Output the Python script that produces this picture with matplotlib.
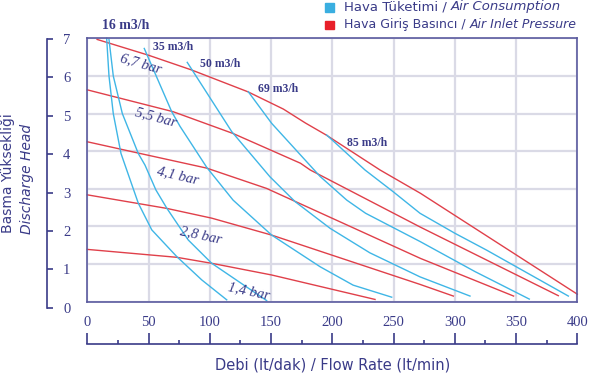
import matplotlib
matplotlib.use('Agg')
import matplotlib.pyplot as plt
from matplotlib.patches import Rectangle

# inlet pressure curves (red)
p67_x = [8, 50, 85, 131, 160, 178, 195, 239, 272, 400]
p67_y = [6.97, 6.55, 6.16, 5.58, 5.12, 4.75, 4.43, 3.5, 2.88, 0.2]
p55_x = [0, 70, 119, 174, 182, 272, 384.5]
p55_y = [5.63, 5.05, 4.47, 3.68, 3.5, 1.98, 0.16]
p41_x = [0, 43, 97.5, 146.4, 272, 348]
p41_y = [4.25, 3.94, 3.55, 3.01, 1.15, 0.15]
p28_x = [0, 64.8, 101.6, 150.5, 271.6, 298.8]
p28_y = [2.84, 2.48, 2.22, 1.77, 0.46, 0.15]
p14_x = [0, 73, 101.6, 150.5, 234.9]
p14_y = [1.39, 1.18, 1.02, 0.71, 0.06]

# air consumption curves (blue)
a0_x = [15.8, 17.7, 21.2, 27.5, 30.8, 41.6, 52.6, 73, 93.4, 113.8]
a0_y = [7.0, 6.0, 5.0, 3.94, 3.63, 2.62, 1.91, 1.2, 0.58, 0.05]
a16_x = [17.7, 21.2, 28.6, 41.6, 47.1, 56, 64.8, 82.4, 101.6, 146.4]
a16_y = [6.97, 6.0, 5.0, 3.94, 3.63, 2.97, 2.49, 1.64, 1.02, 0.03]
a35_x = [46.5, 68.9, 75.7, 97.5, 119, 150.5, 190, 217, 248.5]
a35_y = [6.73, 5.05, 4.66, 3.57, 2.7, 1.77, 0.93, 0.44, 0.12]
a50_x = [81.6, 117.9, 149.1, 169.6, 198.2, 230.6, 271.6, 312.4]
a50_y = [6.36, 4.52, 3.32, 2.66, 1.95, 1.3, 0.66, 0.15]
a69_x = [131.4, 150.5, 190, 211.8, 227.2, 271.6, 316.5, 360.8]
a69_y = [5.58, 4.74, 3.33, 2.7, 2.35, 1.6, 0.8, 0.07]
a85_x = [195.4, 226.7, 249.8, 271.6, 300, 326, 392.7]
a85_y = [4.43, 3.5, 2.92, 2.35, 1.82, 1.37, 0.15]

pressure_labels = ['6,7 bar', '5,5 bar', '4,1 bar', '2,8 bar', '1,4 bar']
air_labels = ['16 m3/h', '35 m3/h', '50 m3/h', '69 m3/h', '85 m3/h']

x_ticks = [0, 50, 100, 150, 200, 250, 300, 350, 400]
y_ticks = [0, 1, 2, 3, 4, 5, 6, 7]

navy = '#3a3b88'
red = '#e0404a'
blue = '#3fb6e6'

W, H = 590, 374
fig = plt.figure(figsize=(W / 100, H / 100), dpi=100)

def box(l, t, r, b):
    return [l / W, 1 - b / H, (r - l) / W, (b - t) / H]

ax = fig.add_axes(box(87.3, 38.3, 577.3, 301.7))
ax.set_xlim(0, 400)
ax.set_ylim(0, 7)
ax.set_xticks(x_ticks)
ax.set_yticks(y_ticks)
ax.tick_params(length=0, labelleft=False, labelbottom=False)
ax.grid(color='#dadae6', lw=1.6)
ax.set_axisbelow(True)
for s in ax.spines.values():
    s.set_color('#5a5a9e')
    s.set_linewidth(1.2)

for xs, ys in [(p67_x, p67_y), (p55_x, p55_y), (p41_x, p41_y), (p28_x, p28_y), (p14_x, p14_y)]:
    ax.plot(xs, ys, color=red, lw=1.0, clip_on=False)
for xs, ys in [(a0_x, a0_y), (a16_x, a16_y), (a35_x, a35_y), (a50_x, a50_y), (a69_x, a69_y), (a85_x, a85_y)]:
    ax.plot(xs, ys, color=blue, lw=1.0, clip_on=False)

serif = 'Liberation Serif'
bar_pos = [(43.8, 6.32, -16), (56.1, 4.91, -15), (74.0, 3.34, -13), (92.8, 1.77, -12), (132, 0.28, -12)]
for lab, (x, y, r) in zip(pressure_labels, bar_pos):
    ax.text(x, y, lab, family=serif, style='italic', fontsize=10.5, color=navy,
            rotation=r, ha='center', va='center', rotation_mode='anchor')

air_pos = [(31.6, 7.33, 10), (69.7, 6.78, 8.5), (108.3, 6.33, 8.5), (155.7, 5.66, 8.5), (228.7, 4.23, 8.5)]
for lab, (x, y, fs) in zip(air_labels, air_pos):
    ax.text(x, y, lab, family=serif, weight='bold', fontsize=fs, color=navy,
            ha='center', va='center', clip_on=False)

# separate left axis with labels on its right side
ax_y = fig.add_axes(box(47, 39, 61, 307.7))
ax_y.set_ylim(0, 7)
ax_y.set_yticks(y_ticks)
ax_y.set_xticks([])
ax_y.patch.set_visible(False)
for k in ['top', 'right', 'bottom']:
    ax_y.spines[k].set_visible(False)
ax_y.spines['left'].set_color(navy)
ax_y.spines['left'].set_linewidth(1.2)
ax_y.tick_params(axis='y', direction='in', length=4.5, width=1.2, color=navy,
                 left=True, right=False, labelleft=False, labelright=True,
                 pad=1.5, labelcolor=navy, labelsize=10.5)
for t in ax_y.get_yticklabels():
    t.set_family(serif)

# separate bottom axis with labels above it
ax_x = fig.add_axes(box(87.3, 333, 577.3, 344))
ax_x.set_xlim(0, 400)
ax_x.set_xticks(x_ticks)
ax_x.set_xticks([25, 75, 125, 175, 225, 275, 325, 375], minor=True)
ax_x.set_yticks([])
ax_x.patch.set_visible(False)
for k in ['top', 'right', 'left']:
    ax_x.spines[k].set_visible(False)
ax_x.spines['bottom'].set_color(navy)
ax_x.spines['bottom'].set_linewidth(1.2)
ax_x.tick_params(axis='x', which='major', direction='in', length=8, width=1.2, color=navy,
                 bottom=True, top=False, labelbottom=False, labeltop=True,
                 pad=3, labelcolor=navy, labelsize=10.5)
ax_x.tick_params(axis='x', which='minor', direction='in', length=3, width=1.2, color=navy,
                 bottom=True, top=False)
for t in ax_x.get_xticklabels():
    t.set_family(serif)

sans = 'DejaVu Sans'
fig.text(332.7 / W, 1 - 365 / H, 'Debi (lt/dak) / Flow Rate (lt/min)', family=sans,
         fontsize=10.5, color=navy, ha='center', va='center')
fig.text(8.5 / W, 1 - 173.3 / H, 'Basma Yüksekliği', family=sans, fontsize=10,
         color=navy, rotation=90, ha='center', va='center')
fig.text(27 / W, 1 - 179.2 / H, 'Discharge Head', family=sans, style='italic', fontsize=10,
         color=navy, rotation=90, ha='center', va='center')

# legend
fig.patches.append(Rectangle((325 / W, 1 - 11.7 / H), 8.5 / W, 8.5 / H,
                             transform=fig.transFigure, color='#3aaee0'))
fig.patches.append(Rectangle((325 / W, 1 - 29.3 / H), 8.5 / W, 8.5 / H,
                             transform=fig.transFigure, color='#e8202a'))
t1 = fig.text(344 / W, 1 - 6.7 / H, 'Hava Tüketimi / ', family=sans, fontsize=9.5,
              color=navy, va='center')
ax.annotate('Air Consumption', xy=(1, 0), xycoords=t1, va='bottom', ha='left',
            family=sans, style='italic', fontsize=9.5, color=navy, annotation_clip=False)
t2 = fig.text(344 / W, 1 - 24.3 / H, 'Hava Giriş Basıncı / ', family=sans, fontsize=9,
              color=navy, va='center')
ax.annotate('Air Inlet Pressure', xy=(1, 0), xycoords=t2, va='bottom', ha='left',
            family=sans, style='italic', fontsize=9, color=navy, annotation_clip=False)

plt.savefig('out.png', dpi=100)
plt.close()
